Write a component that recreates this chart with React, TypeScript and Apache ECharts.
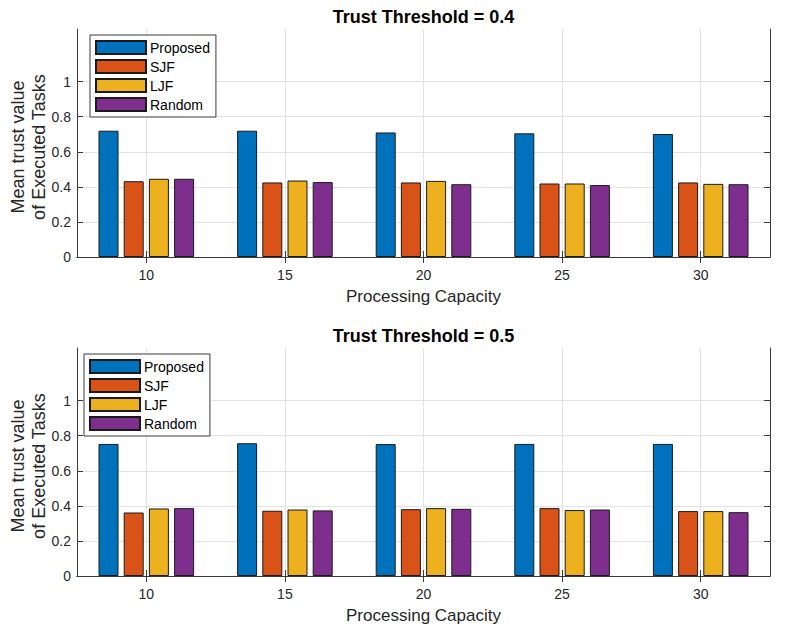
import React, { useEffect, useRef } from "react";
import * as echarts from "echarts";

const categories = [10, 15, 20, 25, 30];
const seriesNames = ["Proposed", "SJF", "LJF", "Random"];
const colors = ["#0072BD", "#D95319", "#EDB120", "#7E2F8E"];

// Trust Threshold = 0.4
const t04Proposed = [0.72, 0.72, 0.71, 0.705, 0.701];
const t04SJF = [0.432, 0.425, 0.425, 0.419, 0.425];
const t04LJF = [0.446, 0.436, 0.434, 0.419, 0.417];
const t04Random = [0.446, 0.427, 0.415, 0.41, 0.415];

// Trust Threshold = 0.5
const t05Proposed = [0.753, 0.757, 0.752, 0.753, 0.753];
const t05SJF = [0.362, 0.372, 0.381, 0.387, 0.37];
const t05LJF = [0.385, 0.379, 0.387, 0.376, 0.37];
const t05Random = [0.387, 0.374, 0.383, 0.379, 0.364];

const yTicks = [0, 0.2, 0.4, 0.6, 0.8, 1];
const titles = ["Trust Threshold = 0.4", "Trust Threshold = 0.5"];
const xName = "Processing Capacity";
const yName = "Mean trust value\nof Executed Tasks";

const FONT = "Liberation Sans, Arial, Helvetica, sans-serif";
const TXT = "#262626";
const AX = "#3a3a3a";
const GRID = "#e3e3e3";

export default function App() {
  const ref = useRef<HTMLDivElement>(null);
  useEffect(() => {
    if (!ref.current) return;
    const chart = echarts.init(ref.current, null, { renderer: "svg" });
    const panels = [
      [t04Proposed, t04SJF, t04LJF, t04Random],
      [t05Proposed, t05SJF, t05LJF, t05Random],
    ];
    const grids = [
      { left: 77, right: 15, top: 29, height: 228, outerBoundsMode: "none", containLabel: false },
      { left: 77, right: 15, top: 348, height: 228, outerBoundsMode: "none", containLabel: false },
    ];
    const xAxis: any[] = [];
    const yAxis: any[] = [];
    const series: any[] = [];
    const legend: any[] = [];
    panels.forEach((panel, p) => {
      const base = {
        type: "value",
        gridIndex: p,
        min: 7.5,
        max: 32.5,
        axisLine: { show: true, lineStyle: { color: AX, width: 1 } },
        axisTick: { show: true, inside: true, length: 6, customValues: categories, lineStyle: { color: AX } },
      };
      xAxis.push({
        ...base,
        position: "bottom",
        axisLabel: { customValues: categories, color: TXT, fontFamily: FONT, fontSize: 14, margin: 11 },
        splitLine: { show: true, lineStyle: { color: GRID, width: 1 } },
        name: xName,
        nameLocation: "middle",
        nameGap: 31,
        nameMoveOverlap: false,
        nameTextStyle: { color: TXT, fontFamily: FONT, fontSize: 17 },
      });
      xAxis.push({
        ...base,
        position: "top",
        axisLabel: { show: false },
        splitLine: { show: false },
        name: titles[p],
        nameLocation: "middle",
        nameGap: 3,
        nameMoveOverlap: false,
        nameTextStyle: { color: "#000", fontFamily: FONT, fontSize: 18, fontWeight: "bold" },
      });
      const ybase = {
        type: "value",
        gridIndex: p,
        min: 0,
        max: 1.3,
        axisLine: { show: true, lineStyle: { color: AX, width: 1 } },
        axisTick: { show: true, inside: true, length: 6, customValues: yTicks, lineStyle: { color: AX } },
      };
      yAxis.push({
        ...ybase,
        position: "left",
        axisLabel: { customValues: yTicks, color: TXT, fontFamily: FONT, fontSize: 14, margin: 6 },
        splitLine: { show: true, lineStyle: { color: GRID, width: 1 } },
        name: yName,
        nameLocation: "middle",
        nameRotate: 90,
        nameGap: 28,
        nameMoveOverlap: false,
        nameTextStyle: { color: TXT, fontFamily: FONT, fontSize: 18, lineHeight: 21, padding: [0, 8, 0, 0] },
      });
      yAxis.push({
        ...ybase,
        position: "right",
        axisLabel: { show: false },
        splitLine: { show: false },
      });
      panel.forEach((vals, s) => {
        series.push({
          type: "bar",
          name: seriesNames[s],
          xAxisIndex: p * 2,
          yAxisIndex: p * 2,
          barWidth: 20,
          barGap: "26%",
          itemStyle: { color: colors[s], borderColor: "#1a1a1a", borderWidth: 1 },
          data: categories.map((c, i) => [c, vals[i]]),
          z: 3,
        });
      });
      legend.push({
        data: seriesNames,
        orient: "vertical",
        left: p === 0 ? 90 : 84,
        top: p === 0 ? 35 : 354,
        itemWidth: 50,
        itemHeight: 13,
        itemGap: 4,
        padding: [5, 6, 5, 5],
        icon: "rect",
        backgroundColor: "#fff",
        borderColor: "#3a3a3a",
        borderWidth: 1,
        borderRadius: 0,
        textStyle: { color: "#000", fontFamily: FONT, fontSize: 14, lineHeight: 13, padding: [0, 0, 0, -1] },
        selectedMode: false,
      });
    });
    chart.setOption({
      animation: false,
      backgroundColor: "#fff",
      grid: grids,
      xAxis,
      yAxis,
      series,
      legend,
    });
    return () => chart.dispose();
  }, []);
  return <div ref={ref} style={{ position: "fixed", left: 0, top: 0, width: 785, height: 633 }} />;
}
